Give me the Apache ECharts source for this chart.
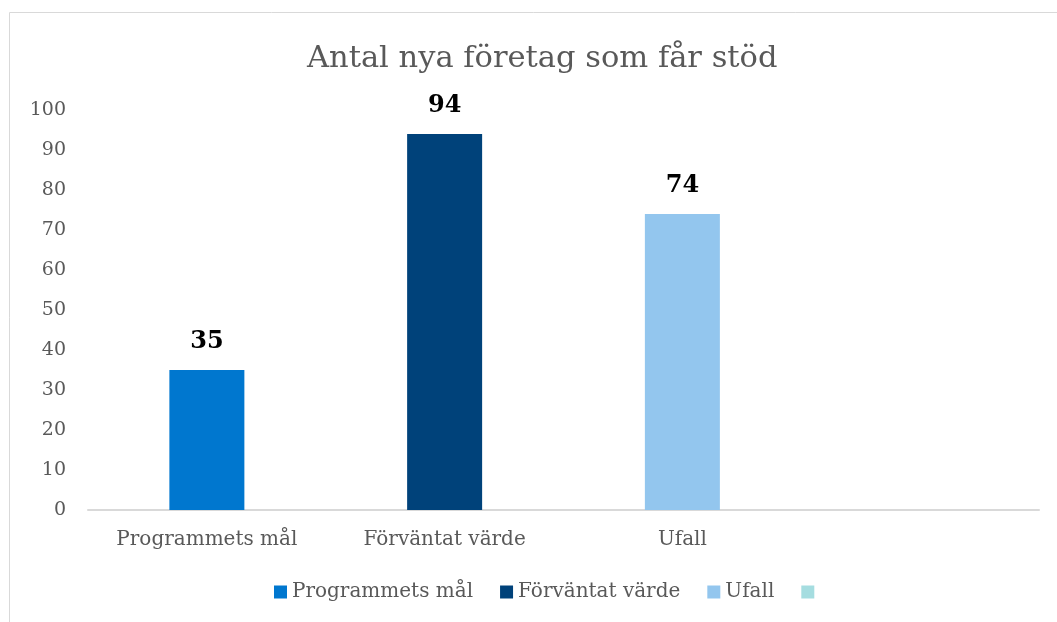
<!DOCTYPE html>
<html><head><meta charset="utf-8">
<script src="https://cdn.jsdelivr.net/npm/echarts@6/dist/echarts.min.js"></script>
<style>html,body{margin:0;padding:0;background:#fff}#c{width:1057px;height:622px}</style>
</head><body><div id="c"></div>
<script>
const categories = ['Programmets mål', 'Förväntat värde', 'Ufall', ''];
const seriesNames = ['Programmets mål', 'Förväntat värde', 'Ufall', ' '];
const values = [35, 94, 74, null];
const colors = ['#0077CF', '#00427A', '#93C6EE', '#A5DDE0'];
const yTicks = [0, 10, 20, 30, 40, 50, 60, 70, 80, 90, 100];
const FONT = '"DejaVu Serif", serif';

const series = seriesNames.map((n, i) => ({
  name: n, type: 'bar', stack: 'all', barWidth: 75,
  itemStyle: { color: colors[i] },
  data: categories.map((c, j) => (j === i ? values[i] : null)),
  label: { show: true, position: 'top', distance: 16, color: '#000', fontFamily: FONT, fontWeight: 'bold', fontSize: 24 }
}));

const chart = echarts.init(document.getElementById('c'));
chart.setOption({
  animation: false,
  graphic: [{ type: 'rect', shape: { x: 9.5, y: 12.5, width: 1100, height: 700 }, style: { fill: 'none', stroke: '#d9d9d9', lineWidth: 1 }, silent: true }],
  title: { text: 'Antal nya företag som får stöd', left: 302, top: 39, textStyle: { fontFamily: FONT, fontWeight: 'normal', fontSize: 30.5, color: '#595959' } },
  legend: { bottom: 15, left: 269, icon: 'rect', itemWidth: 13, itemHeight: 13, itemGap: 27, data: seriesNames, textStyle: { fontFamily: FONT, fontSize: 20, color: '#595959' } },
  grid: { left: 88, right: 18, top: 110, bottom: 112 },
  xAxis: { type: 'category', data: categories, axisLine: { lineStyle: { color: '#d9d9d9', width: 2 } }, axisTick: { show: false }, axisLabel: { margin: 20, fontFamily: FONT, fontSize: 20, color: '#595959' } },
  yAxis: { type: 'value', min: yTicks[0], max: yTicks[yTicks.length - 1], interval: 10, axisLine: { show: false }, axisTick: { show: false }, splitLine: { show: false }, axisLabel: { margin: 22, fontFamily: FONT, fontSize: 19, color: '#595959' } },
  series: series
});
</script></body></html>
